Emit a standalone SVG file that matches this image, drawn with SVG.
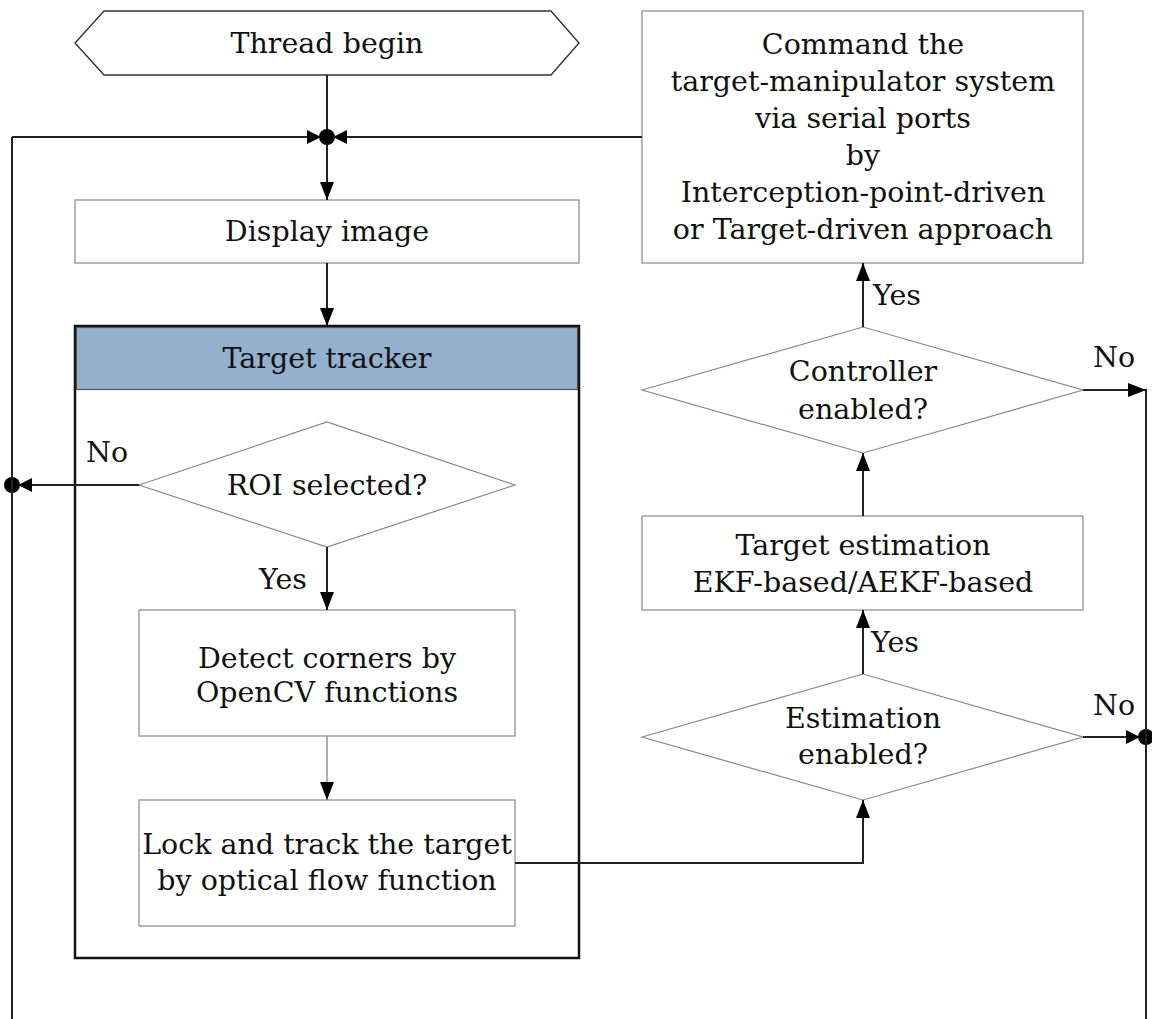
<svg xmlns="http://www.w3.org/2000/svg" width="1152" height="1019" viewBox="0 0 1152 1019">
  <style>
    text { font-family: "DejaVu Serif", "Liberation Serif", serif; font-size: 28.5px; fill: #111; text-anchor: middle; dominant-baseline: central; }
    .node { fill: #fff; stroke: #888; stroke-width: 1.2; }
    .term { fill: #fff; stroke: #333; stroke-width: 1.4; }
    .frame { fill: #fff; stroke: #111; stroke-width: 2.5; }
    .head { fill: #95afcf; stroke: #555; stroke-width: 1.2; }
    .wire { fill: none; stroke: #222; stroke-width: 2; }
    .thin { fill: none; stroke: #777; stroke-width: 1.2; }
    .dot { fill: #000; }
  </style>
  <defs>
    <marker id="arr" viewBox="0 0 18 14" refX="18" refY="7" markerWidth="18" markerHeight="14" markerUnits="userSpaceOnUse" orient="auto">
      <path d="M0,0 L18,7 L0,14 Z" fill="#000"/>
    </marker>
    <marker id="arrDot" viewBox="0 0 14 14" refX="20" refY="7" markerWidth="14" markerHeight="14" markerUnits="userSpaceOnUse" orient="auto">
      <path d="M0,0 L14,7 L0,14 Z" fill="#000"/>
    </marker>
  </defs>

  <!-- Container for the tracker stage -->
  <g id="target-tracker">
    <rect class="frame" x="75" y="326" width="504" height="632"/>
    <rect class="head" x="76.5" y="327.5" width="501" height="62"/>
    <text x="327" y="358">Target tracker</text>
  </g>

  <g id="thread-begin">
    <polygon class="term" points="75,43 104,11 551,11 579,43 551,75 104,75"/>
    <text x="327" y="43">Thread begin</text>
  </g>

  <g id="display-image">
    <rect class="node" x="75" y="200" width="504" height="63"/>
    <text x="327" y="231">Display image</text>
  </g>

  <g id="roi-selected">
    <polygon class="node" points="139,485 327,422 515,485 327,547"/>
    <text x="327" y="485">ROI selected?</text>
  </g>

  <g id="detect-corners">
    <rect class="node" x="139" y="610" width="376" height="126"/>
    <text x="327" y="658">Detect corners by</text>
    <text x="327" y="692">OpenCV functions</text>
  </g>

  <g id="lock-track">
    <rect class="node" x="139" y="800" width="376" height="126"/>
    <text x="327" y="844">Lock and track the target</text>
    <text x="327" y="880">by optical flow function</text>
  </g>

  <g id="estimation-enabled">
    <polygon class="node" points="642,737 863,674 1083,737 863,800"/>
    <text x="863" y="718">Estimation</text>
    <text x="863" y="754">enabled?</text>
  </g>

  <g id="target-estimation">
    <rect class="node" x="642" y="516" width="441" height="94"/>
    <text x="863" y="545">Target estimation</text>
    <text x="863" y="582">EKF-based/AEKF-based</text>
  </g>

  <g id="controller-enabled">
    <polygon class="node" points="642,390 863,327 1083,390 863,453"/>
    <text x="863" y="371">Controller</text>
    <text x="863" y="409">enabled?</text>
  </g>

  <g id="command-system">
    <rect class="node" x="642" y="11" width="441" height="252"/>
    <text x="863" y="44">Command the</text>
    <text x="863" y="81">target-manipulator system</text>
    <text x="863" y="118">via serial ports</text>
    <text x="863" y="155">by</text>
    <text x="863" y="192">Interception-point-driven</text>
    <text x="863" y="229">or Target-driven approach</text>
  </g>

  <g id="connectors">
    <!-- main loop -->
    <line class="wire" x1="327" y1="75" x2="327" y2="137"/>
    <line class="wire" x1="327" y1="137" x2="327" y2="200" marker-end="url(#arr)"/>
    <line class="wire" x1="12" y1="137" x2="327" y2="137" marker-end="url(#arrDot)"/>
    <line class="wire" x1="642" y1="137" x2="327" y2="137" marker-end="url(#arrDot)"/>
    <circle class="dot" cx="327" cy="137" r="8"/>
    <line class="wire" x1="327" y1="263" x2="327" y2="326" marker-end="url(#arr)"/>

    <!-- ROI decision -->
    <line class="wire" x1="327" y1="547" x2="327" y2="610" marker-end="url(#arr)"/>
    <text x="283" y="579">Yes</text>
    <line class="wire" x1="139" y1="485" x2="12" y2="485" marker-end="url(#arrDot)"/>
    <circle class="dot" cx="12" cy="485" r="8"/>
    <text x="107" y="452">No</text>
    <line class="wire" x1="12" y1="137" x2="12" y2="1019"/>

    <line class="thin" x1="327" y1="736" x2="327" y2="800" marker-end="url(#arr)"/>

    <!-- tracker to estimation -->
    <polyline class="wire" points="515,863 863,863 863,800" marker-end="url(#arr)"/>

    <!-- estimation decision -->
    <line class="wire" x1="863" y1="674" x2="863" y2="610" marker-end="url(#arr)"/>
    <text x="895" y="642">Yes</text>
    <line class="wire" x1="1083" y1="737" x2="1146" y2="737" marker-end="url(#arrDot)"/>
    <circle class="dot" cx="1146" cy="737" r="8"/>
    <text x="1114" y="705">No</text>

    <line class="wire" x1="863" y1="516" x2="863" y2="453" marker-end="url(#arr)"/>

    <!-- controller decision -->
    <line class="wire" x1="863" y1="327" x2="863" y2="263" marker-end="url(#arr)"/>
    <text x="897" y="295">Yes</text>
    <line class="wire" x1="1083" y1="390" x2="1146" y2="390" marker-end="url(#arr)"/>
    <text x="1114" y="357">No</text>
    <line class="wire" x1="1146" y1="389" x2="1146" y2="1019"/>
  </g>
</svg>
